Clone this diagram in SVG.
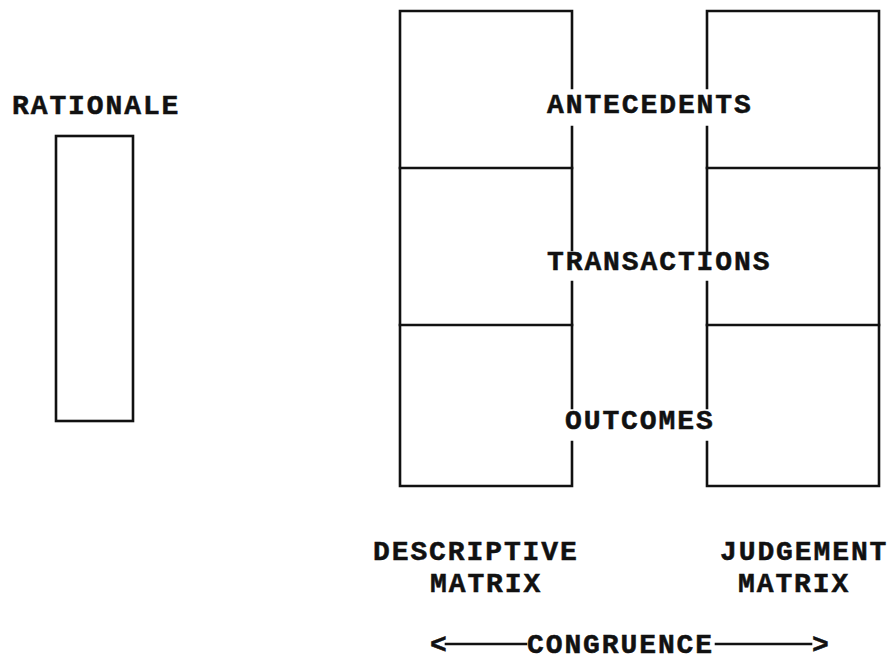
<svg xmlns="http://www.w3.org/2000/svg" width="895" height="662" viewBox="0 0 895 662">
<style>
  .ln { stroke: #111; stroke-width: 2.6; fill: none; stroke-linecap: square; }
  .t { font-family: "Liberation Mono", "Courier New", monospace; font-weight: bold; font-size: 28px; letter-spacing: 1.9px; fill: #111; stroke: #111; stroke-width: 0.5; }
</style>
<rect width="895" height="662" fill="#ffffff"/>
<g id="rationale">
  <rect class="ln" x="56" y="136" width="77" height="285"/>
  <text class="t" x="12" y="114">RATIONALE</text>
</g>
<g id="descriptive-matrix">
  <path class="ln" d="M572,11 H400 V486 H572 V442 M572,408 V282 M572,250 V127 M572,88 V11"/>
  <line class="ln" x1="400" y1="168" x2="572" y2="168"/>
  <line class="ln" x1="400" y1="325" x2="572" y2="325"/>
  <text class="t" x="373" y="560">DESCRIPTIVE</text>
  <text class="t" x="430" y="592">MATRIX</text>
</g>
<g id="judgement-matrix">
  <path class="ln" d="M707,11 H879 V486 H707 V442 M707,408 V282 M707,252 V127 M707,88 V11"/>
  <line class="ln" x1="707" y1="168" x2="879" y2="168"/>
  <line class="ln" x1="707" y1="325" x2="879" y2="325"/>
  <text class="t" x="720" y="560">JUDGEMENT</text>
  <text class="t" x="738" y="592">MATRIX</text>
</g>
<g id="antecedents"><text class="t" x="547" y="113">ANTECEDENTS</text></g>
<g id="transactions"><text class="t" x="547" y="270">TRANSACTIONS</text></g>
<g id="outcomes"><text class="t" x="565" y="429">OUTCOMES</text></g>
<g id="congruence">
  <text class="t" x="527" y="653">CONGRUENCE</text>
</g>
<g id="connectors">
  <text class="t" x="430" y="653">&lt;</text>
  <line class="ln" x1="446" y1="644" x2="526" y2="644"/>
  <line class="ln" x1="716" y1="644" x2="811" y2="644"/>
  <text class="t" x="812" y="653">&gt;</text>
</g>
</svg>
